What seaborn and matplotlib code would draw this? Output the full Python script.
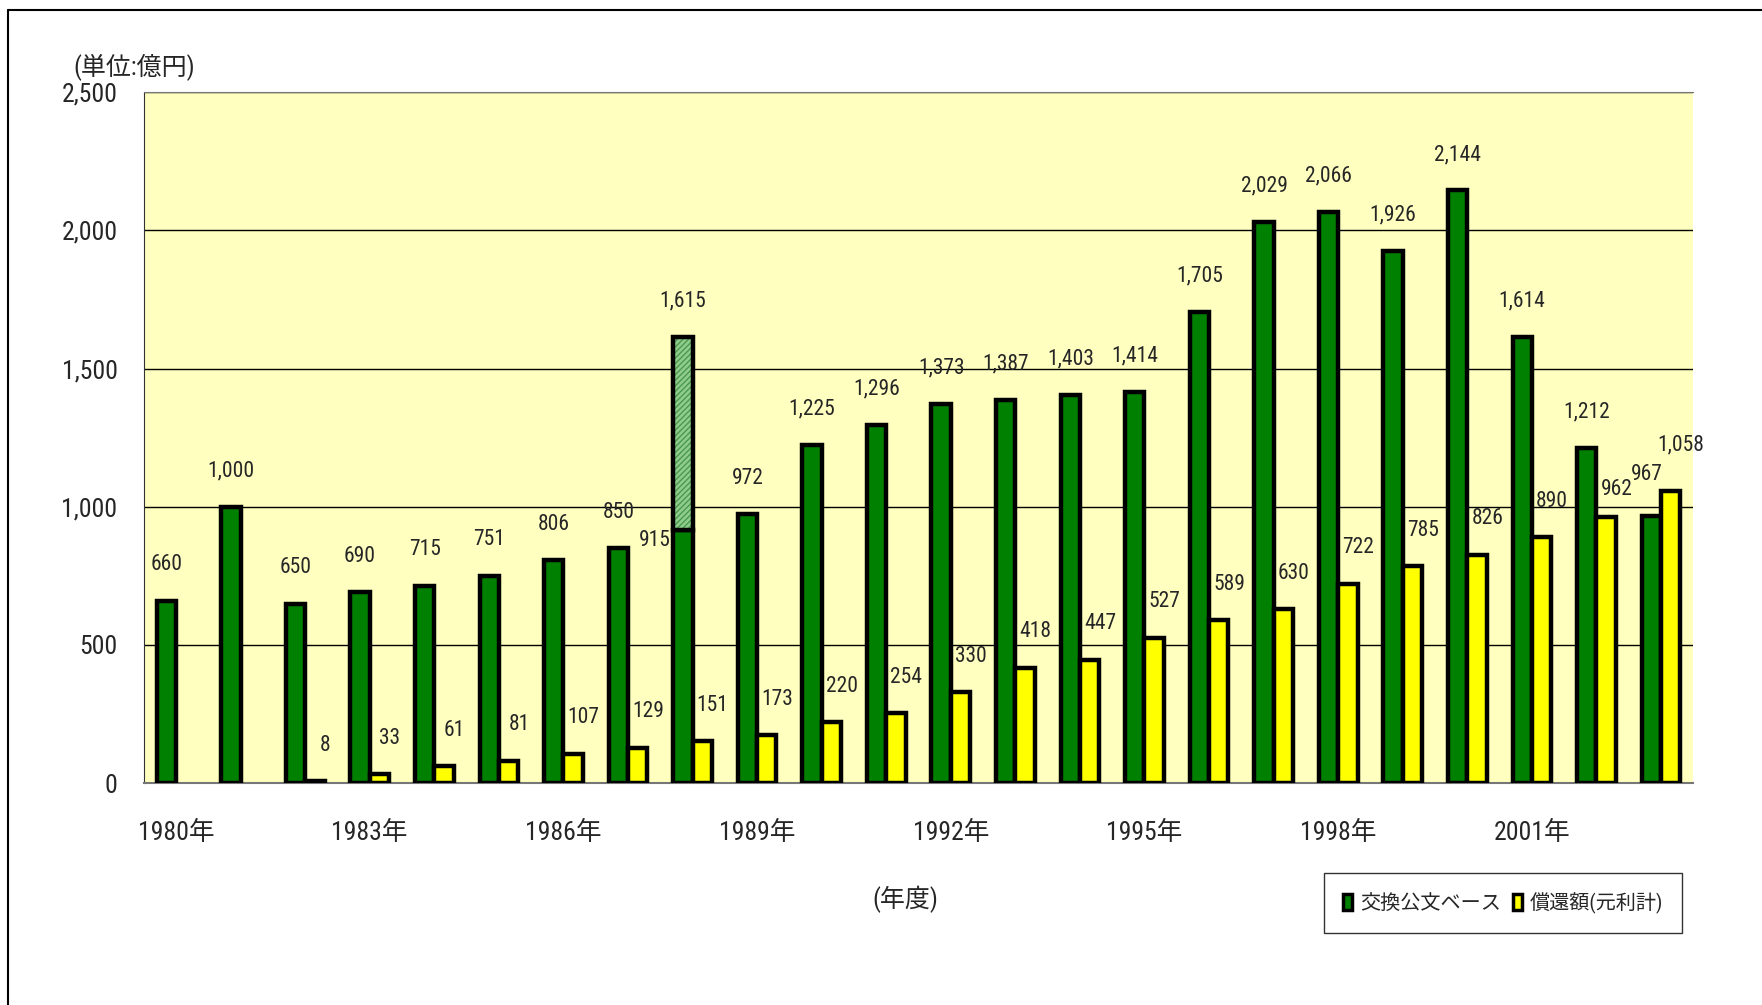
import pandas as pd
import matplotlib.pyplot as plt
import matplotlib.ticker as mticker
from matplotlib import font_manager
import seaborn as sns

# ------------------------------------------
# data
# ------------------------------------------
years = list(range(1980, 2004))
exchange = [660, 1000, 650, 690, 715, 751, 806, 850, 915, 972, 1225, 1296,
            1373, 1387, 1403, 1414, 1705, 2029, 2066, 1926, 2144, 1614, 1212, 967]
repay = [None, None, 8, 33, 61, 81, 107, 129, 151, 173, 220, 254,
         330, 418, 447, 527, 589, 630, 722, 785, 826, 890, 962, 1058]
extra_year = 1988
extra_total = 1615
labeled_years = [1980, 1983, 1986, 1989, 1992, 1995, 1998, 2001]

series = ['交換公文ベース', '償還額(元利計)']
colors = ['#008000', '#FFFF00']

year_labels = [f'{y}年' for y in years]
rows = []
for y, a, b in zip(year_labels, exchange, repay):
    rows.append({'年度': y, '系列': series[0], '金額': a})
    if b is not None:
        rows.append({'年度': y, '系列': series[1], '金額': b})
df = pd.DataFrame(rows)

# ------------------------------------------
# style: pick a narrow latin face if one is installed
# ------------------------------------------
sns.set_style('white')
fonts = font_manager.fontManager.ttflist
names = {f.name for f in fonts}
latin = 'Liberation Sans'
stretch = 'normal'
for cand in ['Liberation Sans Narrow', 'Roboto Condensed', 'Open Sans Condensed']:
    if cand in names:
        latin = cand
        break
else:
    if any(f.name == 'DejaVu Sans' and f.stretch in ('condensed', 500) for f in fonts):
        latin, stretch = 'DejaVu Sans', 'condensed'
    elif any(f.name == 'Roboto' and f.stretch == 'condensed' for f in fonts):
        latin, stretch = 'Roboto', 'condensed'
plt.rcParams['font.family'] = [latin, 'Noto Sans CJK JP', 'DejaVu Sans']
plt.rcParams['font.stretch'] = stretch
plt.rcParams['hatch.linewidth'] = 1.0

fig = plt.figure(figsize=(17.62, 10.05), dpi=100)
ax = fig.add_axes([0.0816, 0.2207, 0.8794, 0.6877])
ax.set_facecolor('#FFFFC0')

sns.barplot(data=df, x='年度', y='金額', hue='系列', order=year_labels,
            hue_order=series, palette=colors, width=0.6, saturation=1,
            edgecolor='black', linewidth=3.2, ax=ax, legend=False, zorder=3)

green_bars = ax.containers[0].patches
yellow_bars = ax.containers[1].patches

# hatched extension on top of the 1988 bar
i88 = years.index(extra_year)
b88 = green_bars[i88]
ext_h = extra_total - exchange[i88]
ax.bar(b88.get_x(), ext_h, bottom=exchange[i88], width=b88.get_width(), align='edge',
       color='#90CC90', edgecolor='#4A994A', hatch='//////', linewidth=0, zorder=3)
ax.bar(b88.get_x(), ext_h, bottom=exchange[i88], width=b88.get_width(), align='edge',
       fill=False, edgecolor='black', linewidth=3.2, zorder=4)

# ------------------------------------------
# value labels
# ------------------------------------------
lab_size = 15.5
gap = 130
for y, v, bar in zip(years, exchange, green_bars):
    cx = bar.get_x() + bar.get_width() / 2
    if y == extra_year:
        ax.text(bar.get_x() - 0.04, v - 37, f'{v:,}', ha='right', va='center', fontsize=lab_size, zorder=5)
        ax.text(cx, extra_total + gap, f'{extra_total:,}', ha='center', va='center', fontsize=lab_size, zorder=5)
        continue
    dx, dy = (-0.07, 150) if y == 2003 else (0, gap)
    ax.text(cx + dx, v + dy, f'{v:,}', ha='center', va='center', fontsize=lab_size, zorder=5)

yr_rep = [(y, v) for y, v in zip(years, repay) if v is not None]
for (y, v), bar in zip(yr_rep, yellow_bars):
    cx = bar.get_x() + bar.get_width() / 2
    dy = {2002: 100, 2003: 166}.get(y, gap)
    ax.text(cx + 0.16, v + dy, f'{v:,}', ha='center', va='center', fontsize=lab_size, zorder=5)

# ------------------------------------------
# axes
# ------------------------------------------
ax.set_ylim(0, 2500)
ax.set_xlim(-0.5, len(years) - 0.5)
ax.yaxis.set_major_locator(mticker.MultipleLocator(500))
ax.yaxis.set_major_formatter(mticker.FuncFormatter(lambda v, p: f'{v:,.0f}'))
ax.yaxis.grid(True, color='black', linewidth=1, zorder=0)
ax.set_axisbelow(True)

ticks = [years.index(y) for y in labeled_years]
ax.set_xticks(ticks)
ax.set_xticklabels([f'{y}年' for y in labeled_years])
ax.set_xticks([i + 0.5 for i in range(-1, len(years))], minor=True)
ax.tick_params(axis='x', which='major', length=0, pad=27, labelsize=18.5)
ax.tick_params(axis='x', which='minor', direction='in', length=7, width=1, color='#555555')
ax.tick_params(axis='y', which='major', direction='out', length=5, width=1, pad=14, labelsize=18.5)
ax.set_xlabel('')
ax.set_ylabel('')

ax.spines['right'].set_visible(False)
ax.spines['top'].set_color('#777777')
ax.spines['bottom'].set_color('#777777')
ax.spines['bottom'].set_linewidth(1.5)
ax.spines['left'].set_color('#333333')

# ------------------------------------------
# texts, legend, frame
# ------------------------------------------
fig.text(0.0415, 0.933, '(単位:億円)', ha='left', va='center', fontsize=18)
fig.text(0.514, 0.105, '(年度)', ha='center', va='center', fontsize=18)

handles = [plt.Rectangle((0, 0), 1, 1, facecolor=c, edgecolor='black', linewidth=2.5) for c in colors]
ax.legend(handles, series, loc='center', bbox_to_anchor=(0.853, 0.1015),
          bbox_transform=fig.transFigure, ncol=2, frameon=True, fancybox=False,
          edgecolor='black', fontsize=14.5, handlelength=0.45, handleheight=0.8,
          handletextpad=0.4, columnspacing=0.6, borderpad=0.95, borderaxespad=0)
ax.get_legend().get_frame().set_linewidth(1)

fig.add_artist(plt.Line2D([0.0045, 0.0045], [0, 0.99], color='black', linewidth=1.5))
fig.add_artist(plt.Line2D([0.0045, 1], [0.99, 0.99], color='black', linewidth=1.5))

fig.savefig('out.png', dpi=100)
